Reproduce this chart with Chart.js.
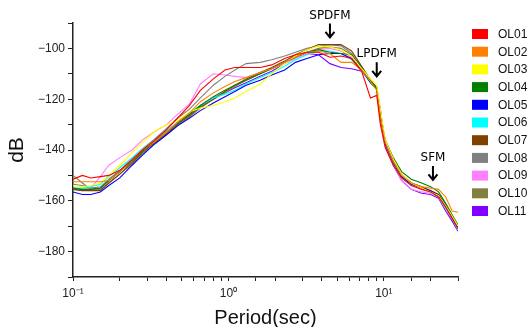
<!DOCTYPE html>
<html>
<head>
<meta charset="utf-8">
<script src="https://cdn.jsdelivr.net/npm/chart.js@4.4.0/dist/chart.umd.min.js"></script>
<style>
html, body { margin: 0; padding: 0; background: #fff; }
#wrap { width: 528px; height: 327px; }
</style>
</head>
<body>
<div id="wrap"><canvas id="myChart"></canvas></div>
<script>

// period (sec) of each sample
var periods = [0.1, 0.115, 0.13, 0.15, 0.17, 0.2, 0.24, 0.28, 0.33, 0.4,
    0.47, 0.56, 0.66, 0.8, 0.95, 1.1, 1.3, 1.6, 1.9, 2.3,
    2.7, 3.2, 3.8, 4.5, 5.3, 6.2, 7.2, 8.2, 9.0, 9.5,
    10.2, 11.5, 13, 15, 17.5, 20, 22.5, 25, 27.5, 30];

var stationNames = ['OL01', 'OL02', 'OL03', 'OL04', 'OL05', 'OL06', 'OL07', 'OL08', 'OL09', 'OL10', 'OL11'];

var stationColors = ['#ff0000', '#ff8000', '#ffff00', '#008000', '#0000ff', '#00ffff',
    '#804000', '#808080', '#ff80ff', '#808040', '#8000ff'];

var OL01 = [-151.5, -150, -151, -150.5, -150, -148, -144, -140, -136.5, -132,
    -127.5, -122.5, -116.5, -112, -108.5, -107.5, -107.5, -107.5, -106.5, -104,
    -102.5, -101.5, -101.5, -103.5, -103, -104, -109, -119.5, -118.5, -130,
    -139, -146, -151, -154, -155.5, -156.5, -158.5, -162.5, -167, -171];
var OL02 = [-152.5, -152.5, -152.5, -152.5, -152, -148.5, -144, -140, -137, -133,
    -129, -125.5, -121, -117.5, -115, -113, -111.5, -109.5, -108, -105.5,
    -103.5, -101.5, -101, -102, -105.5, -105.5, -108.5, -113, -116.5, -127,
    -137, -144.5, -150, -153, -154.5, -155, -155.5, -158.5, -164, -164.5];
var OL03 = [-154, -154.5, -154, -153, -150, -146, -141, -137, -133, -130,
    -128.5, -125, -123.5, -122.5, -121, -119.5, -117, -114, -110, -106,
    -103, -100.5, -99, -99.5, -100.5, -103, -108, -112, -114.5, -124,
    -136, -143.5, -149.5, -153, -155, -156.5, -158, -162, -166, -170];
var OL04 = [-155, -155.5, -155.5, -155, -152, -148.5, -144.5, -140.5, -137, -133,
    -129.5, -126, -122.5, -119, -116.5, -114.5, -112.5, -110, -108, -105.5,
    -103.5, -101.5, -100.5, -101.5, -102, -102.5, -107.5, -112.5, -115.5, -126,
    -136, -143, -148.5, -151.5, -153, -154.5, -156.5, -161, -165.5, -169.5];
var OL05 = [-156.5, -157.5, -157.5, -156.5, -154, -151, -146, -142, -138, -134,
    -130.5, -127.5, -124.5, -121.5, -119, -117, -114.5, -112.5, -110.5, -108.5,
    -105.5, -104, -102.5, -102, -102, -104, -108.5, -113.5, -116, -127,
    -137.5, -145, -150.5, -153.5, -155, -156, -158, -162, -166.5, -170.5];
var OL06 = [-155, -155, -154.5, -153.5, -150.5, -147, -143, -139.5, -136.5, -132.5,
    -129, -125.5, -122.5, -119.5, -118, -116.5, -114, -111.5, -109.5, -107,
    -104.5, -102.5, -101, -101, -102, -104.5, -109, -113.5, -116, -125,
    -137, -145.5, -151, -153.5, -155, -156.5, -158.5, -163, -167, -171.5];
var OL07 = [-155.5, -156, -156, -156, -153, -149.5, -145, -141, -137.5, -133.5,
    -130, -126.5, -123, -120, -117, -114.5, -112, -109.5, -107.5, -105,
    -102.5, -100.5, -98.5, -98.5, -98.5, -101, -107, -112.5, -115.5, -127,
    -136.5, -144, -150, -153, -154.5, -156, -157.5, -161.5, -166, -170];
var OL08 = [-153.5, -154, -155, -154.5, -151.5, -148, -143.5, -139.5, -136, -131.5,
    -127.5, -124, -119.5, -114.5, -111, -108.5, -106, -105.5, -104.5, -103,
    -101.5, -100, -99, -98.5, -99, -102, -107.5, -113, -116, -127.5,
    -137, -144.5, -150, -153, -154.5, -156, -157.5, -161.5, -166, -170.5];
var OL09 = [-155.5, -156, -155, -150.5, -146, -143, -140, -136, -133, -130,
    -126, -122, -114, -110, -110.5, -111, -111.5, -109.5, -108, -106,
    -104, -102, -100.5, -100, -101, -103.5, -108, -113, -116, -126.5,
    -137.5, -146, -152, -155.5, -156.5, -157, -158.5, -163, -167, -171];
var OL10 = [-150, -153, -155.5, -155.5, -153, -149.5, -145.5, -141.5, -138, -134,
    -130.5, -127, -123.5, -120, -117.5, -115, -112.5, -110, -108, -105.5,
    -103, -101.5, -100, -99.5, -100, -102.5, -107.5, -112.5, -116, -127.5,
    -136.5, -143.5, -149.5, -153, -155, -156.5, -158, -162.5, -166.5, -170.5];
var OL11 = [-155.5, -155.5, -155.5, -155, -152, -148.5, -143.5, -140, -136.5, -132.5,
    -129.5, -126, -122.5, -119.5, -117.5, -115.5, -113.5, -111, -109, -106,
    -103.5, -102, -102.5, -106, -107.5, -108, -109, -113, -116, -124,
    -138, -146, -152, -155.5, -157, -157.5, -159, -164, -168, -172];

var seriesValues = [OL01, OL02, OL03, OL04, OL05, OL06, OL07, OL08, OL09, OL10, OL11];

var xTickLabels = { '-1': '10\u207B\u00B9', '0': '10\u2070', '1': '10\u00B9' };

// arrows marking the frequency bands: period, dB of arrow tip
var markerNames = ['SPDFM', 'LPDFM', 'SFM'];
var markerPeriods = [4.5, 9.0, 20.7];
var markerLevels = [-95.7, -111, -151.8];

var datasets = [];

for (var i = 0; i != seriesValues.length; i++) {
    var pts = [];
    for (var j = 0; j != periods.length; j++)
        pts.push({ x: periods[j], y: seriesValues[i][j] });

    datasets.push({
        label: stationNames[i],
        data: pts,
        borderColor: stationColors[i],
        backgroundColor: stationColors[i],
        borderWidth: 1.1,
        pointRadius: 0,
        tension: 0,
        fill: false
    });
}

var extras = {
    id: 'extras',
    afterDraw: function (chart) {
        var ctx = chart.ctx;
        var xs = chart.scales.x;
        var ys = chart.scales.y;
        ctx.save();

        // band markers
        ctx.fillStyle = '#000';
        ctx.strokeStyle = '#000';
        ctx.lineWidth = 2;
        ctx.font = '12px "DejaVu Sans"';
        ctx.textAlign = 'center';
        ctx.textBaseline = 'middle';
        for (var k = 0; k != markerNames.length; k++) {
            var px = xs.getPixelForValue(markerPeriods[k]);
            var tip = ys.getPixelForValue(markerLevels[k]);
            ctx.fillText(markerNames[k], px, tip - 22);
            ctx.beginPath();
            ctx.moveTo(px, tip - 14);
            ctx.lineTo(px, tip);
            ctx.moveTo(px - 4.5, tip - 5.5);
            ctx.lineTo(px, tip);
            ctx.lineTo(px + 4.5, tip - 5.5);
            ctx.stroke();
        }

        // legend
        ctx.font = '12px "Liberation Sans"';
        ctx.textAlign = 'left';
        for (var i = 0; i != stationNames.length; i++) {
            var cy = 34 + i * 17.7;
            ctx.fillStyle = stationColors[i];
            ctx.fillRect(472, cy - 5, 16, 10);
            ctx.fillStyle = '#111';
            ctx.fillText(stationNames[i], 498, cy + 0.5);
        }
        ctx.restore();
    }
};

var config = {
    type: 'line',
    data: { datasets: datasets },
    options: {
        responsive: true,
        maintainAspectRatio: false,
        animation: false,
        devicePixelRatio: 1,
        layout: { padding: { top: 23, right: 70, left: 0, bottom: 0 } },
        plugins: {
            legend: { display: false },
            tooltip: { enabled: false }
        },
        scales: {
            x: {
                type: 'logarithmic',
                min: 0.1,
                max: 30,
                afterFit: function (scale) { scale.height = 50; },
                border: { display: true, color: '#222', width: 1.5 },
                grid: { drawOnChartArea: false, tickLength: 4, color: '#222' },
                ticks: {
                    autoSkip: false,
                    maxRotation: 0,
                    padding: 5,
                    color: '#222',
                    font: { family: 'Liberation Sans', size: 12 },
                    callback: function (value) {
                        var e = Math.log10(value);
                        var r = Math.round(e);
                        if (Math.abs(e - r) < 1e-6 && xTickLabels[r] !== undefined) return xTickLabels[r];
                        return '';
                    }
                },
                title: {
                    display: true,
                    text: 'Period(sec)',
                    color: '#111',
                    font: { family: 'Liberation Sans', size: 20, lineHeight: 1 },
                    padding: { top: 0, bottom: -1 }
                }
            },
            y: {
                min: -190,
                max: -90,
                afterFit: function (scale) { scale.width = 73; },
                border: { display: true, color: '#222', width: 1.5 },
                grid: { drawOnChartArea: false, tickLength: 5, color: '#222' },
                ticks: {
                    stepSize: 10,
                    padding: 3,
                    color: '#222',
                    font: { family: 'Liberation Sans', size: 12 },
                    callback: function (value) {
                        if (value % 20 === 0) return '\u2212' + Math.abs(value);
                        return '';
                    }
                },
                title: {
                    display: true,
                    text: 'dB',
                    color: '#111',
                    font: { family: 'Liberation Sans', size: 21, lineHeight: 1 },
                    padding: { top: 7, bottom: 0 }
                }
            }
        }
    },
    plugins: [extras]
};

var chart = new Chart(document.getElementById('myChart'), config);

</script>
</body>
</html>
